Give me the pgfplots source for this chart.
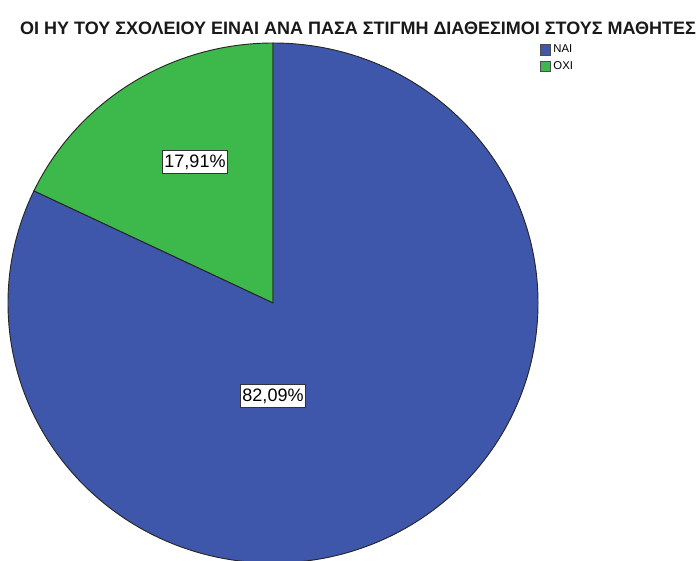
\documentclass[border=0pt]{standalone}
\usepackage{pgfplots}
\pgfplotsset{compat=1.18}
\usepackage{fontspec}
\setmainfont{Liberation Sans}

\definecolor{nai}{HTML}{3F57AB}
\definecolor{oxi}{HTML}{3DB84A}

% shares (%)
\def\valNAI{82.09}
\def\valOXI{17.91}

\begin{document}
\begin{tikzpicture}
\clip (0,0) rectangle (523.5pt,420pt);
\begin{axis}[
    x=0.75pt, y=0.75pt, disabledatascaling,
    anchor=origin, at={(0,0)},
    xmin=0, xmax=698, ymin=0, ymax=560,
    hide axis, clip=false,
    legend style={at={(axis cs:540,518)}, anchor=north west, draw=none, fill=none,
        font=\fontsize{8.5}{9}\selectfont, inner sep=0pt, row sep=1pt,
        /tikz/every even column/.style={column sep=2pt}},
    legend cell align=left,
    legend image code/.code={\draw[#1, draw=black!70, line width=0.4pt] (0pt,-4pt) rectangle (7.5pt,4pt);},
]
\pgfmathsetmacro{\split}{90+3.6*\valOXI}
% ΟΧΙ slice
\fill[oxi, draw=black!85, line width=0.7pt] (axis cs:273,257) -- (axis cs:273,517)
    arc[start angle=90, end angle=\split, x radius=198.75pt, y radius=195pt] -- cycle;
% ΝΑΙ slice
\fill[nai, draw=black!85, line width=0.7pt] (axis cs:273,257) -- (axis cs:273,517)
    arc[start angle=90, end angle=\split-360, x radius=198.75pt, y radius=195pt] -- cycle;

\node[fill=white, draw=black!80, line width=0.5pt, inner xsep=1.5pt, inner ysep=3pt, font=\fontsize{13.5}{14}\selectfont]
    at (axis cs:195,398) {17,91\%};
\node[fill=white, draw=black!80, line width=0.5pt, inner xsep=1.5pt, inner ysep=3pt, font=\fontsize{13.5}{14}\selectfont]
    at (axis cs:273,164) {82,09\%};

\node[font=\bfseries\fontsize{13.5}{14}\selectfont, text=black!90] at (axis cs:358,532)
    {ΟΙ ΗΥ ΤΟΥ ΣΧΟΛΕΙΟΥ ΕΙΝΑΙ ΑΝΑ ΠΑΣΑ ΣΤΙΓΜΗ ΔΙΑΘΕΣΙΜΟΙ ΣΤΟΥΣ ΜΑΘΗΤΕΣ};

\addlegendimage{fill=nai}
\addlegendentry{ΝΑΙ}
\addlegendimage{fill=oxi}
\addlegendentry{ΟΧΙ}
\end{axis}
\end{tikzpicture}
\end{document}
